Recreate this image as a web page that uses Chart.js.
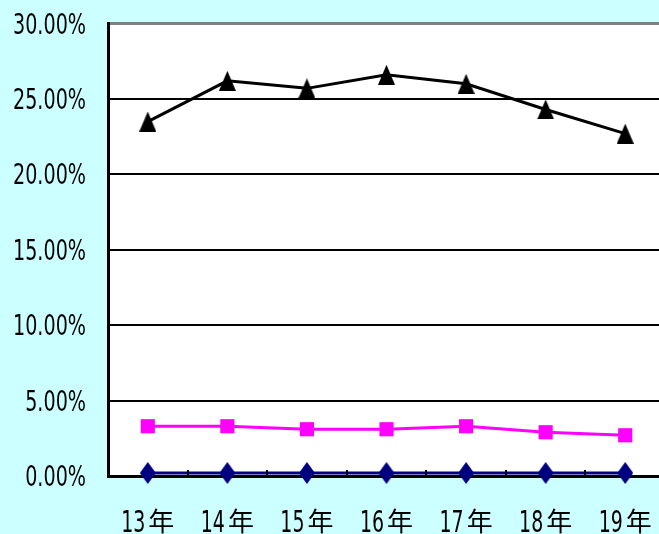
<!DOCTYPE html>
<html>
<head>
<meta charset="utf-8">
<script src="https://cdn.jsdelivr.net/npm/chart.js@4"></script>
<style>
html,body{margin:0;padding:0;background:#CCFFFF;overflow:hidden;}
#wrap{width:659px;height:534px;overflow:hidden;position:relative;}
canvas{display:block;}
</style>
</head>
<body>
<div id="wrap"><canvas id="c" width="665" height="534"></canvas></div>
<script>
// ---- data ----
const categories = ['13年','14年','15年','16年','17年','18年','19年'];
const triangleSeries = [23.5, 26.2, 25.7, 26.6, 26.0, 24.3, 22.7];
const squareSeries   = [3.3, 3.3, 3.1, 3.1, 3.3, 2.9, 2.7];
const diamondSeries  = [0.2, 0.2, 0.2, 0.2, 0.2, 0.2, 0.2];
const yTicks = [0, 5, 10, 15, 20, 25, 30];

const LATIN = "'DejaVu Sans Condensed', 'DejaVu Sans', sans-serif";
const CJK = "'Noto Sans CJK JP', sans-serif";

function markerCanvas(w, h, drawFn){
  const c = document.createElement('canvas');
  c.width = w; c.height = h;
  const g = c.getContext('2d');
  drawFn(g, w, h);
  return c;
}
const triMarker = markerCanvas(17, 20, (g,w,h)=>{
  g.fillStyle = '#000000';
  g.beginPath(); g.moveTo(w/2,0); g.lineTo(w,h); g.lineTo(0,h); g.closePath(); g.fill();
});
const diaMarker = markerCanvas(16, 22, (g,w,h)=>{
  g.fillStyle = '#000080';
  g.beginPath(); g.moveTo(w/2,0); g.lineTo(w,h/2); g.lineTo(w/2,h); g.lineTo(0,h/2); g.closePath(); g.fill();
});

const bgPlugin = {
  id: 'bg',
  beforeDraw(chart){
    const {ctx, chartArea:a} = chart;
    ctx.save();
    ctx.fillStyle = '#FFFFFF';
    ctx.fillRect(a.left, a.top, a.right - a.left, a.bottom - a.top);
    ctx.restore();
  }
};

// tick marks pointing inward between categories + condensed tick labels
const labelPlugin = {
  id: 'labels',
  afterDraw(chart){
    const xs = chart.scales.x, ys = chart.scales.y, a = chart.chartArea, ctx = chart.ctx;
    ctx.save();
    ctx.strokeStyle = '#000000';
    ctx.lineWidth = 2;
    for (let i = 1; i < categories.length; i++){
      const px = Math.round((xs.getPixelForValue(i-1) + xs.getPixelForValue(i)) / 2);
      ctx.beginPath();
      ctx.moveTo(px, a.bottom);
      ctx.lineTo(px, a.bottom - 6);
      ctx.stroke();
    }
    ctx.fillStyle = '#000000';
    // y labels
    ctx.font = '28px ' + LATIN;
    ctx.textAlign = 'right';
    ctx.textBaseline = 'alphabetic';
    const syY = 0.76;
    yTicks.forEach(v => {
      const py = ys.getPixelForValue(v);
      ctx.save();
      ctx.translate(86, py + 10);
      ctx.scale(syY, 1);
      ctx.fillText(v.toFixed(2) + '%', 0, 0);
      ctx.restore();
    });
    // x labels
    const sxD = 0.68, gap = 3;
    categories.forEach((lab, i) => {
      const m = lab.match(/^([0-9]+)(.*)$/);
      const num = m ? m[1] : lab, rest = m ? m[2] : '';
      ctx.font = '31px ' + LATIN;
      const wD = ctx.measureText(num).width * sxD;
      ctx.font = '26px ' + CJK;
      const wR = ctx.measureText(rest).width;
      const cx = xs.getPixelForValue(i);
      let x0 = cx - (wD + gap + wR) / 2;
      ctx.textAlign = 'left';
      ctx.font = '31px ' + LATIN;
      ctx.save();
      ctx.translate(x0, 532);
      ctx.scale(sxD, 1);
      ctx.fillText(num, 0, 0);
      ctx.restore();
      ctx.font = '26px ' + CJK;
      ctx.fillText(rest, x0 + wD + gap, 531);
    });
    ctx.restore();
  }
};

new Chart(document.getElementById('c'), {
  type: 'line',
  data: {
    labels: categories,
    datasets: [
      { label: '系列1', data: diamondSeries, borderColor: '#000080', borderWidth: 3,
        pointStyle: diaMarker, pointRadius: 8, clip: false },
      { label: '系列2', data: squareSeries, borderColor: '#FF00FF', backgroundColor: '#FF00FF', borderWidth: 3,
        pointStyle: 'rect', pointRadius: 10, pointBorderWidth: 0, clip: false },
      { label: '系列3', data: triangleSeries, borderColor: '#000000', borderWidth: 3,
        pointStyle: triMarker, pointRadius: 10, clip: false }
    ]
  },
  options: {
    responsive: false,
    animation: false,
    events: [],
    layout: { autoPadding: false, padding: { top: 23.5, right: 0, left: 0, bottom: 0 } },
    plugins: { legend: { display: false }, tooltip: { enabled: false } },
    scales: {
      x: {
        offset: true,
        grid: { display: false, drawTicks: false },
        border: { display: true, color: '#000000', width: 3 },
        ticks: { display: false },
        afterFit(s){ s.height = 58; }
      },
      y: {
        min: 0, max: 30,
        afterBuildTicks(s){ s.ticks = yTicks.map(v => ({ value: v })); },
        grid: {
          drawTicks: false,
          color: ctx => (ctx.tick && ctx.tick.value === 30) ? '#808080' : '#000000',
          lineWidth: ctx => (ctx.tick && ctx.tick.value === 30) ? 3 : 2
        },
        border: { display: true, color: '#000000', width: 3 },
        ticks: { display: false },
        afterFit(s){ s.width = 108; }
      }
    }
  },
  plugins: [bgPlugin, labelPlugin]
});
</script>
</body>
</html>
